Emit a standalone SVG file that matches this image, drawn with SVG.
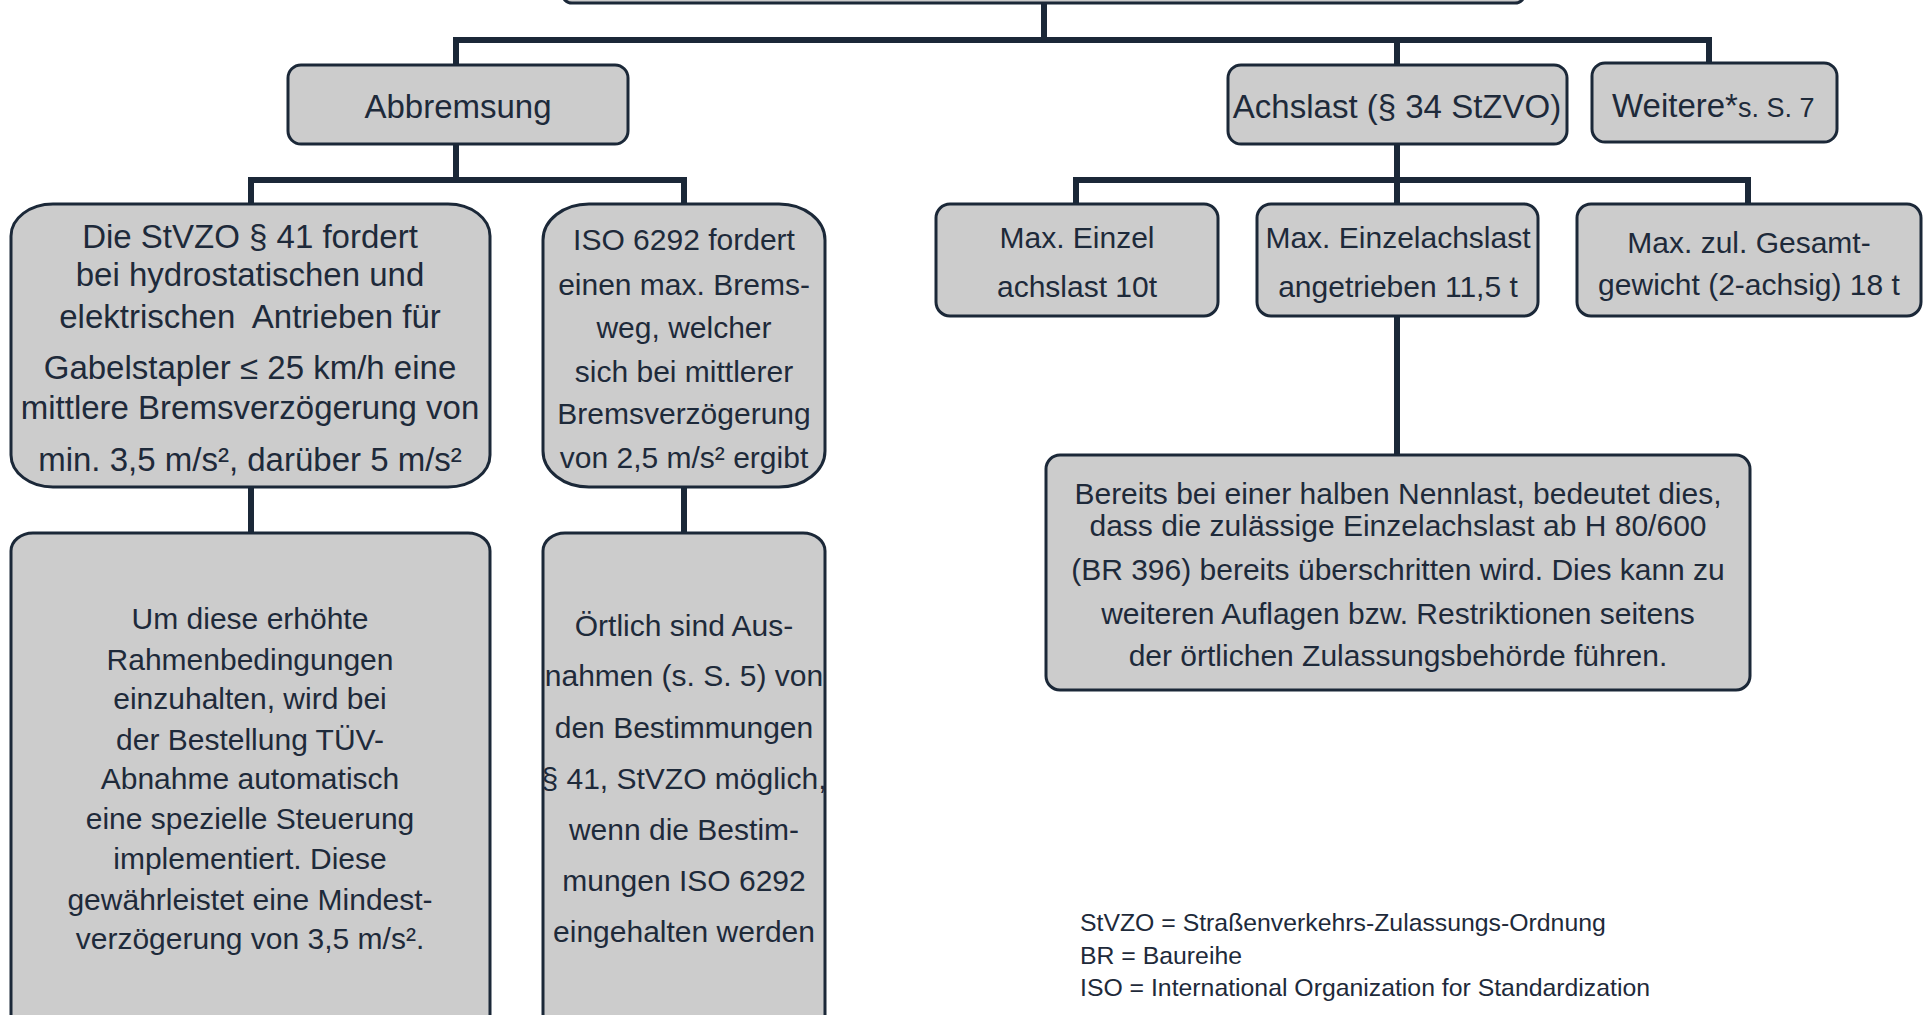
<svg xmlns="http://www.w3.org/2000/svg" width="1923" height="1015" viewBox="0 0 1923 1015">
<style>
.box{fill:#cccccc;stroke:#1b2838;stroke-width:3}
.con{fill:none;stroke:#1b2838;stroke-width:6;stroke-linecap:square}
text{font-family:"Liberation Sans",Arial,sans-serif;fill:#1e2a3a;text-anchor:middle}
.t33{font-size:33px}
.t30{font-size:30px}
.leg{font-size:24.8px;text-anchor:start}
</style>
<rect width="1923" height="1015" fill="#ffffff"/>
<g id="connectors">
<path class="con" d="M1044,3 V40 M456,40 H1709 M456,40 V65 M1397,40 V65 M1709,40 V63"/>
<path class="con" d="M456,144 V180 M251,180 H684 M251,180 V204 M684,180 V204"/>
<path class="con" d="M251,487 V533 M684,487 V533"/>
<path class="con" d="M1397,144 V180 M1076,180 H1748 M1076,180 V204 M1397,180 V204 M1748,180 V204"/>
<path class="con" d="M1397,316 V455"/>
</g>
<g id="top">
<rect class="box" x="562" y="-40" width="963" height="43" rx="10"/>
</g>
<g id="abbremsung">
<rect class="box" x="288" y="65" width="340" height="79" rx="13"/>
<text class="t33" x="458" y="118">Abbremsung</text>
</g>
<g id="achslast">
<rect class="box" x="1228" y="65" width="339" height="79" rx="13"/>
<text class="t33" x="1397" y="118">Achslast (§ 34 StZVO)</text>
</g>
<g id="weitere">
<rect class="box" x="1592" y="63" width="245" height="79" rx="13"/>
<text class="t33" x="1612" y="117" style="text-anchor:start">Weitere*<tspan font-size="27">s. S. 7</tspan></text>
</g>
<g id="stvzo">
<rect class="box" x="11" y="204" width="479" height="283" rx="42" ry="32"/>
<text class="t33" x="250" y="248">Die StVZO § 41 fordert</text>
<text class="t33" x="250" y="286">bei hydrostatischen und</text>
<text class="t33" x="250" y="328" style="white-space:pre">elektrischen  Antrieben für</text>
<text class="t33" x="250" y="379">Gabelstapler ≤ 25 km/h eine</text>
<text class="t33" x="250" y="419">mittlere Bremsverzögerung von</text>
<text class="t33" x="250" y="471">min. 3,5 m/s², darüber 5 m/s²</text>
</g>
<g id="iso">
<rect class="box" x="543" y="204" width="282" height="283" rx="46" ry="36"/>
<text class="t30" x="684" y="250">ISO 6292 fordert</text>
<text class="t30" x="684" y="295">einen max. Brems-</text>
<text class="t30" x="684" y="338">weg, welcher</text>
<text class="t30" x="684" y="382">sich bei mittlerer</text>
<text class="t30" x="684" y="424">Bremsverzögerung</text>
<text class="t30" x="684" y="468">von 2,5 m/s² ergibt</text>
</g>
<g id="umdiese">
<rect class="box" x="11" y="533" width="479" height="520" rx="22" ry="18"/>
<text class="t30" x="250" y="629">Um diese erhöhte</text>
<text class="t30" x="250" y="670">Rahmenbedingungen</text>
<text class="t30" x="250" y="709">einzuhalten, wird bei</text>
<text class="t30" x="250" y="750">der Bestellung TÜV-</text>
<text class="t30" x="250" y="789">Abnahme automatisch</text>
<text class="t30" x="250" y="829">eine spezielle Steuerung</text>
<text class="t30" x="250" y="869">implementiert. Diese</text>
<text class="t30" x="250" y="910">gewährleistet eine Mindest-</text>
<text class="t30" x="250" y="949">verzögerung von 3,5 m/s².</text>
</g>
<g id="oertlich">
<rect class="box" x="543" y="533" width="282" height="520" rx="22" ry="18"/>
<text class="t30" x="684" y="636">Örtlich sind Aus-</text>
<text class="t30" x="684" y="686">nahmen (s. S. 5) von</text>
<text class="t30" x="684" y="738">den Bestimmungen</text>
<text class="t30" x="684" y="789">§ 41, StVZO möglich,</text>
<text class="t30" x="684" y="840">wenn die Bestim-</text>
<text class="t30" x="684" y="891">mungen ISO 6292</text>
<text class="t30" x="684" y="942">eingehalten werden</text>
</g>
<g id="einzel">
<rect class="box" x="936" y="204" width="282" height="112" rx="14"/>
<text class="t30" x="1077" y="248">Max. Einzel</text>
<text class="t30" x="1077" y="297">achslast 10t</text>
</g>
<g id="einzelachslast">
<rect class="box" x="1257" y="204" width="281" height="112" rx="14"/>
<text class="t30" x="1398" y="248">Max. Einzelachslast</text>
<text class="t30" x="1398" y="297">angetrieben 11,5 t</text>
</g>
<g id="gesamt">
<rect class="box" x="1577" y="204" width="344" height="112" rx="14"/>
<text class="t30" x="1749" y="253">Max. zul. Gesamt-</text>
<text class="t30" x="1749" y="295">gewicht (2-achsig) 18 t</text>
</g>
<g id="bereits">
<rect class="box" x="1046" y="455" width="704" height="235" rx="14"/>
<text class="t30" x="1398" y="504">Bereits bei einer halben Nennlast, bedeutet dies,</text>
<text class="t30" x="1398" y="536">dass die zulässige Einzelachslast ab H 80/600</text>
<text class="t30" x="1398" y="580">(BR 396) bereits überschritten wird. Dies kann zu</text>
<text class="t30" x="1398" y="624">weiteren Auflagen bzw. Restriktionen seitens</text>
<text class="t30" x="1398" y="666">der örtlichen Zulassungsbehörde führen.</text>
</g>
<g id="legend">
<text class="leg" x="1080" y="931">StVZO = Straßenverkehrs-Zulassungs-Ordnung</text>
<text class="leg" x="1080" y="964">BR = Baureihe</text>
<text class="leg" x="1080" y="996">ISO = International Organization for Standardization</text>
</g>
</svg>
